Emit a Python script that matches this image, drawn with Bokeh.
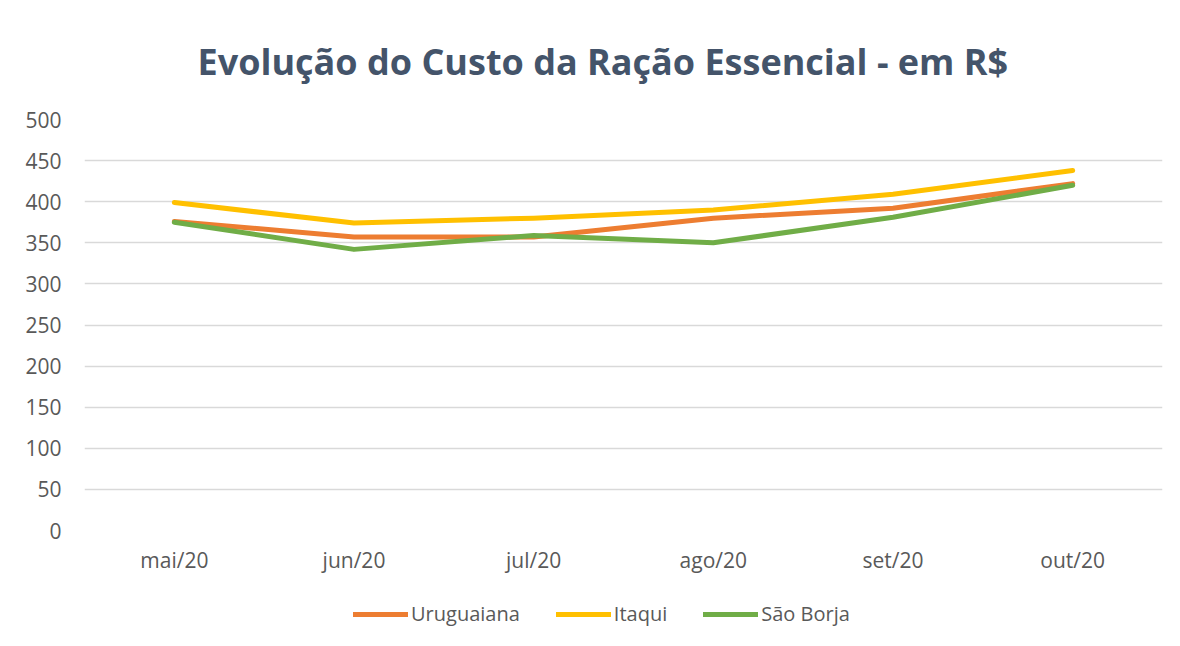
from bokeh.plotting import figure
from bokeh.models import FactorRange, Range1d, FixedTicker, Legend, LegendItem
from bokeh.layouts import column
from bokeh.embed import file_html
from bokeh.resources import INLINE

months = ["mai/20", "jun/20", "jul/20", "ago/20", "set/20", "out/20"]
uruguaiana = [376, 357, 357, 380, 392, 422]
itaqui = [399, 374, 380, 390, 409, 438]
sao_borja = [375, 342, 359, 350, 381, 420]
y_ticks = [0, 50, 100, 150, 200, 250, 300, 350, 400, 450, 500]

FONT = "Open Sans"
TXT = "#595959"
GRID = "#D9D9D9"

p = figure(width=1172, height=580, x_range=FactorRange(factors=months),
           y_range=Range1d(0, 500), output_backend="svg", toolbar_location=None,
           min_border_left=84, min_border_right=10, min_border_top=118, min_border_bottom=50)

p.title.text = "Evolução do Custo da Ração Essencial - em R$"
p.title.align = "left"
p.title.text_font = FONT
p.title.text_font_size = "36px"
p.title.text_font_style = "bold"
p.title.text_color = "#44546A"
p.title.standoff = 68
p.title.offset = 113

p.outline_line_color = None
p.xgrid.grid_line_color = None
p.ygrid.grid_line_color = GRID
p.ygrid.grid_line_width = 1.5
p.yaxis.ticker = FixedTicker(ticks=y_ticks)

for ax in (p.xaxis, p.yaxis):
    ax.axis_line_color = None
    ax.major_tick_line_color = None
    ax.minor_tick_line_color = None
    ax.major_label_text_font = FONT
    ax.major_label_text_font_size = "21px"
    ax.major_label_text_color = TXT
p.yaxis.major_label_standoff = 17
p.xaxis.major_label_standoff = 9

series = [("Uruguaiana", uruguaiana, "#ED7D31"),
          ("Itaqui", itaqui, "#FFC000"),
          ("São Borja", sao_borja, "#70AD47")]
for name, vals, col in series:
    p.line(months, vals, line_color=col, line_width=5, line_cap="round", line_join="round")

# legend strip below the chart (same series, lines kept outside its visible range)
lf = figure(width=1172, height=66, x_range=FactorRange(factors=months),
            y_range=Range1d(1000, 1001), output_backend="svg", toolbar_location=None,
            x_axis_location=None, y_axis_location=None,
            min_border=0, outline_line_color=None)
lf.grid.visible = False
items = []
for name, vals, col in series:
    r = lf.line(months, vals, line_color=col, line_width=5, line_cap="round")
    items.append(LegendItem(label=name, renderers=[r]))
legend = Legend(items=items, orientation="horizontal", location=(269, 19),
                label_text_font=FONT, label_text_font_size="20px", label_text_color=TXT,
                glyph_width=55, glyph_height=20, label_standoff=3, spacing=36,
                margin=0, padding=4, border_line_color=None, background_fill_alpha=0)
lf.add_layout(legend, "center")

layout = column(p, lf, spacing=0)
open("out.html", "w").write(file_html(layout, INLINE))
